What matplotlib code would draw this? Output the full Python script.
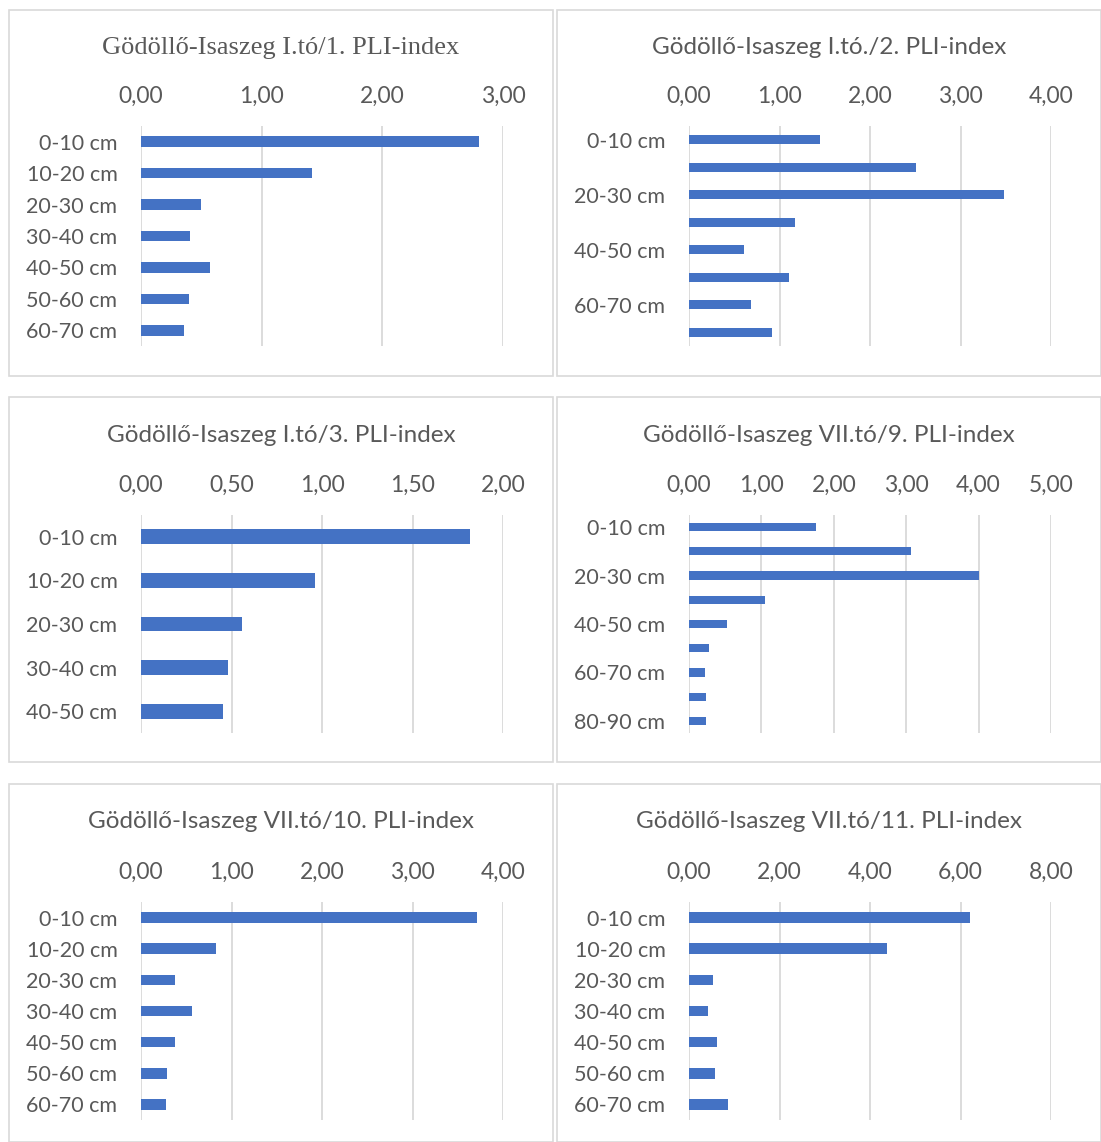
import matplotlib
matplotlib.use("Agg")
import matplotlib.pyplot as plt
from matplotlib.patches import Rectangle
from matplotlib.ticker import FuncFormatter, MultipleLocator

W, H = 1101, 1142

# ---- data ----
titles = [
    "Gödöllő-Isaszeg I.tó/1. PLI-index",
    "Gödöllő-Isaszeg I.tó./2. PLI-index",
    "Gödöllő-Isaszeg I.tó/3. PLI-index",
    "Gödöllő-Isaszeg VII.tó/9. PLI-index",
    "Gödöllő-Isaszeg VII.tó/10. PLI-index",
    "Gödöllő-Isaszeg VII.tó/11. PLI-index",
]
cats7 = ["0-10 cm", "10-20 cm", "20-30 cm", "30-40 cm", "40-50 cm", "50-60 cm", "60-70 cm"]
cats8 = cats7 + ["70-80 cm"]
cats9 = cats8 + ["80-90 cm"]
cats5 = cats7[:5]

pli_1 = [2.80, 1.42, 0.50, 0.41, 0.57, 0.40, 0.36]
pli_2 = [1.45, 2.51, 3.48, 1.17, 0.61, 1.10, 0.69, 0.92]
pli_3 = [1.82, 0.96, 0.56, 0.48, 0.455]
pli_9 = [1.75, 3.06, 4.01, 1.05, 0.52, 0.28, 0.22, 0.24, 0.23]
pli_10 = [3.71, 0.83, 0.38, 0.56, 0.38, 0.29, 0.275]
pli_11 = [6.22, 4.38, 0.53, 0.43, 0.61, 0.57, 0.87]

xmax = [3, 4, 2, 5, 4, 8]
xstep = [1, 1, 0.5, 1, 1, 2]
label_every = [1, 2, 1, 2, 1, 1]

panels = [
    (cats7, pli_1), (cats8, pli_2), (cats5, pli_3),
    (cats9, pli_9), (cats7, pli_10), (cats7, pli_11),
]

# ---- layout (pixels) ----
boxes = [(9, 10, 553, 376), (557, 10, 1101, 376),
         (9, 397, 553, 762), (557, 397, 1101, 762),
         (9, 784, 553, 1142), (557, 784, 1101, 1142)]
plot_x = [(141, 503), (689, 1051)]
plot_y = [(126, 346), (515, 733), (902, 1120)]
title_y = [48, 435, 822]

BAR = "#4472C4"
TXT = "#595959"
GRID = "#D9D9D9"

fig = plt.figure(figsize=(W / 100, H / 100), dpi=100)
fig.patch.set_facecolor("white")

fmt = FuncFormatter(lambda v, p: f"{v:.2f}".replace(".", ","))

for i, ((cats, vals), box) in enumerate(zip(panels, boxes)):
    col, row = i % 2, i // 2
    x0, y0, x1, y1 = box
    fig.patches.append(Rectangle((x0 / W, 1 - y1 / H), (x1 - x0) / W, (y1 - y0) / H,
                                 transform=fig.transFigure, fill=False,
                                 edgecolor=GRID, linewidth=1.2))
    px0, px1 = plot_x[col]
    py0, py1 = plot_y[row]
    ax = fig.add_axes([px0 / W, 1 - py1 / H, (px1 - px0) / W, (py1 - py0) / H])
    pos = list(range(len(cats)))
    ax.barh(pos, vals, height=0.34, color=BAR, zorder=3)
    ax.set_ylim(len(cats) - 0.5, -0.5)
    ax.set_xlim(0, xmax[i])
    ax.xaxis.set_major_locator(MultipleLocator(xstep[i]))
    ax.xaxis.set_major_formatter(fmt)
    ax.xaxis.tick_top()
    ax.set_yticks(pos)
    ax.set_yticklabels([c if k % label_every[i] == 0 else "" for k, c in enumerate(cats)])
    for s in ax.spines.values():
        s.set_visible(False)
    ax.grid(axis="x", color=GRID, linewidth=1.3, zorder=0)
    ax.tick_params(axis="both", length=0, colors=TXT)
    ax.tick_params(axis="x", pad=14, labelsize=16.5)
    ax.tick_params(axis="y", pad=17, labelsize=15.5)
    for t in ax.get_xticklabels() + ax.get_yticklabels():
        t.set_family("Lato")
    tfam = "Liberation Serif" if i == 0 else "Lato"
    tsize = 19 if i == 0 else 17.5
    fig.text((x0 + x1) / 2 / W, 1 - title_y[row] / H, titles[i], ha="center", va="center",
             color=TXT, fontsize=tsize, family=tfam)

fig.savefig("out.png", dpi=100, facecolor="white")
